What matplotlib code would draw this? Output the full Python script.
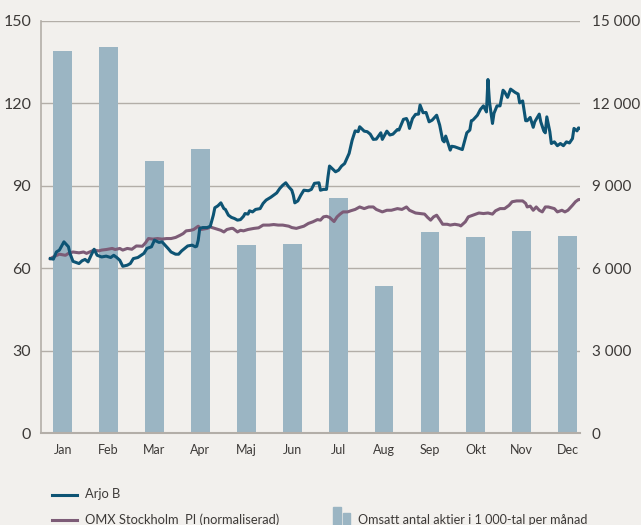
import matplotlib
matplotlib.use("Agg")
import matplotlib.pyplot as plt
from matplotlib.lines import Line2D
from matplotlib.patches import Rectangle
from matplotlib.ticker import FuncFormatter
import numpy as np

months = ["Jan", "Feb", "Mar", "Apr", "Maj", "Jun", "Jul", "Aug", "Sep", "Okt", "Nov", "Dec"]
volume = [13900, 14050, 9900, 10330, 6840, 6870, 8550, 5340, 7310, 7130, 7350, 7170]

arjo_days = [8, 10, 12, 14, 17, 20, 21, 23, 27, 29, 31, 33, 35, 37, 39, 42, 45, 48, 50, 52,
             54, 56, 59, 61, 63, 66, 70, 72, 75, 77, 80, 82, 84, 86, 88, 91, 93, 95, 97, 99,
             102, 104, 105, 106, 107, 109, 112, 114, 116, 117, 119, 121, 123, 124, 126, 128,
             130, 132, 134, 136, 137, 139, 140, 142, 144, 147, 149, 151, 154, 156, 158, 160,
             162, 164, 166, 168, 169, 170, 172, 174, 176, 179, 181, 183, 186, 187, 189, 191,
             192, 193, 197, 199, 201, 203, 206, 208, 210, 212, 213, 216, 218, 220, 222, 224,
             227, 228, 231, 233, 235, 238, 239, 242, 244, 245, 246, 248, 250, 252, 253, 255,
             257, 259, 261, 264, 266, 268, 269, 270, 273, 274, 276, 279, 281, 283, 284, 286,
             287, 288, 291, 293, 295, 297, 298, 299, 301, 302, 304, 306, 308, 309, 311, 313,
             316, 318, 319, 321, 323, 324, 326, 328, 329, 332, 333, 335, 336, 337, 339, 340,
             342, 344, 346, 348, 350, 352, 354, 355, 357, 358, 360]
arjo = [63.5, 63.3, 65.9, 66.6, 69.6, 67.8, 65.4, 62.5, 61.7, 62.7, 63.2, 62.3, 64.7, 66.9,
        64.7, 64.1, 64.4, 63.9, 64.7, 63.9, 62.9, 60.7, 61.1, 61.7, 63.5, 63.9, 65.4, 67.2,
        67.8, 70.2, 69.4, 69.6, 68.4, 67.2, 65.9, 65.1, 65.1, 66.3, 67.2, 68.1, 68.4, 67.8,
        68.0, 70.2, 74.5, 74.8, 74.8, 75.3, 79.3, 82.0, 82.7, 83.8, 81.7, 81.4, 79.3, 78.5,
        78.1, 77.5, 77.7, 78.9, 79.9, 79.7, 80.9, 80.5, 81.4, 81.7, 83.6, 84.8, 85.8, 86.6,
        87.4, 89.0, 90.2, 91.1, 89.6, 88.4, 86.6, 83.8, 84.5, 86.6, 88.4, 88.2, 88.7, 90.9,
        91.1, 88.4, 88.7, 88.7, 93.3, 97.2, 95.1, 95.7, 97.2, 98.1, 101.8, 106.6, 110.0,
        109.7, 111.5, 109.9, 109.7, 108.8, 106.9, 107.0, 109.3, 106.9, 109.9, 108.5, 108.8,
        110.5, 110.3, 114.2, 114.5, 113.3, 110.9, 114.5, 116.0, 116.1, 119.4, 116.6, 116.7,
        113.3, 113.9, 115.7, 112.1, 106.6, 106.0, 108.1, 103.0, 104.4, 104.2, 103.6, 103.2,
        107.2, 109.3, 110.3, 113.7, 113.9, 115.7, 117.8, 119.1, 116.9, 128.7, 120.6, 112.7,
        116.4, 119.1, 119.1, 124.8, 124.2, 122.2, 125.2, 124.0, 123.4, 120.2, 120.9, 113.7,
        113.7, 114.9, 111.3, 113.3, 116.1, 113.3, 110.0, 109.3, 115.1, 109.7, 105.4, 106.0,
        104.6, 105.4, 104.6, 106.0, 105.6, 107.2, 110.9, 110.0, 111.1, 110.6]

omx_days = [8, 11, 14, 18, 20, 23, 27, 30, 32, 34, 37, 40, 42, 45, 49, 51, 54, 56, 59, 62,
            65, 69, 71, 73, 76, 79, 82, 85, 88, 91, 94, 96, 98, 101, 103, 104, 106, 108, 112,
            114, 117, 121, 123, 125, 128, 129, 132, 134, 136, 139, 143, 146, 149, 153, 156,
            159, 162, 166, 168, 171, 174, 176, 179, 182, 185, 187, 189, 191, 193, 196, 198,
            200, 202, 205, 207, 210, 213, 216, 219, 222, 224, 228, 231, 234, 238, 241, 244,
            246, 250, 253, 256, 258, 260, 262, 264, 266, 268, 271, 273, 276, 279, 280, 283,
            285, 288, 292, 295, 298, 301, 303, 306, 309, 312, 314, 317, 321, 323, 324, 326,
            328, 330, 332, 334, 336, 338, 342, 344, 347, 349, 351, 354, 356, 358, 360]
omx = [63.5, 64.4, 65.1, 64.7, 65.4, 65.9, 65.6, 65.9, 65.4, 65.9, 66.6, 66.3, 66.6, 66.8,
       67.2, 66.8, 67.2, 66.6, 67.2, 66.9, 68.1, 68.0, 69.2, 70.8, 70.6, 70.8, 70.6, 70.8,
       70.8, 71.2, 72.0, 72.6, 73.6, 73.8, 74.1, 74.5, 75.3, 74.1, 74.5, 75.0, 74.5, 73.8,
       73.2, 74.1, 74.5, 74.5, 73.2, 73.8, 73.6, 74.1, 74.5, 74.7, 75.7, 75.7, 75.9, 75.7,
       75.7, 75.3, 74.8, 74.5, 75.0, 75.3, 76.3, 76.9, 77.7, 77.5, 78.7, 78.9, 78.5, 77.0,
       78.7, 79.7, 80.5, 80.5, 80.9, 81.4, 82.3, 81.7, 82.3, 82.3, 81.4, 80.5, 81.1, 81.1,
       81.7, 81.4, 82.3, 81.1, 80.1, 79.9, 79.7, 78.5, 77.5, 78.7, 79.3, 77.7, 76.0, 76.0,
       75.7, 76.0, 75.7, 75.4, 76.9, 78.7, 79.3, 80.1, 79.9, 80.1, 79.7, 80.9, 81.7, 81.7,
       82.9, 84.2, 84.5, 84.5, 83.6, 82.3, 82.6, 81.1, 82.3, 81.1, 80.5, 82.3, 82.3, 81.7,
       80.5, 81.1, 80.5, 81.1, 82.9, 84.2, 85.0, 85.0]

BG = "#f2f0ed"
BAR = "#9bb5c3"
BLUE = "#0e5474"
PURPLE = "#7d5c77"
GRID = "#b3aea8"
TXT = "#3d3a38"
FONT = ["Lato", "DejaVu Sans"]

plt.rcParams["font.family"] = FONT

fig = plt.figure(figsize=(6.41, 5.25), dpi=100, facecolor=BG)
ax = fig.add_axes([0.064, 0.1752, 0.841, 0.7848])
ax.set_facecolor(BG)
ax2 = ax.twinx()

x_bar = np.arange(len(months))
ax2.bar(x_bar, volume, width=0.41, color=BAR, zorder=1)
ax2.set_ylim(0, 15000)
ax2.set_yticks([0, 3000, 6000, 9000, 12000, 15000])
ax2.yaxis.set_major_formatter(FuncFormatter(lambda v, p: f"{int(v):,}".replace(",", " ")))

def day_to_pos(d):
    return (np.asarray(d) - 1) / (365 / 12) - 0.5

ax.set_zorder(ax2.get_zorder() + 1)
ax.patch.set_visible(False)
ax2.patch.set_visible(True)
ax2.patch.set_facecolor(BG)

ax2.grid(False)
for v in [3000, 6000, 9000, 12000, 15000]:
    ax2.axhline(v, color=GRID, lw=1.0, zorder=0.5)

ax.plot(day_to_pos(omx_days), omx, color=PURPLE, lw=2.2, zorder=3, solid_joinstyle="round")
ax.plot(day_to_pos(arjo_days), arjo, color=BLUE, lw=2.2, zorder=4, solid_joinstyle="round")

ax.set_ylim(0, 150)
ax.set_yticks([0, 30, 60, 90, 120, 150])
ax.set_xlim(-0.473, 11.272)
ax.set_xticks(x_bar)
ax.set_xticklabels(months)

for a in (ax, ax2):
    for s in ["top", "right", "left", "bottom"]:
        a.spines[s].set_visible(False)
    a.tick_params(length=0, colors=TXT)

ax.spines["left"].set_visible(True)
ax.spines["left"].set_color(GRID)
ax.spines["left"].set_linewidth(1.2)
ax.spines["bottom"].set_visible(True)
ax.spines["bottom"].set_color(GRID)
ax.spines["bottom"].set_linewidth(1.5)

ax.tick_params(axis="y", labelsize=11.5, pad=7)
ax2.tick_params(axis="y", labelsize=11, pad=8.5)
ax.tick_params(axis="x", labelsize=9, pad=8)
for lbl in ax.get_yticklabels() + ax2.get_yticklabels() + ax.get_xticklabels():
    lbl.set_color(TXT)

# legend
W, H = 641, 525
def fx(px):
    return px / W
def fy(py):
    return 1 - py / H

fig.add_artist(Line2D([fx(52), fx(77)], [fy(494.5), fy(494.5)], color=BLUE, lw=2.2,
                      transform=fig.transFigure))
fig.text(fx(85), fy(494.5), "Arjo B", fontsize=9.3, color=TXT, va="center", ha="left")
fig.add_artist(Line2D([fx(52), fx(77)], [fy(520), fy(520)], color=PURPLE, lw=2.2,
                      transform=fig.transFigure))
fig.text(fx(85), fy(520), "OMX Stockholm  PI (normaliserad)", fontsize=9.3, color=TXT,
         va="center", ha="left")
fig.add_artist(Rectangle((fx(333), fy(526)), fx(8), 19 / H, color=BAR,
                         transform=fig.transFigure))
fig.add_artist(Rectangle((fx(343), fy(526)), fx(7), 13 / H, color=BAR,
                         transform=fig.transFigure))
fig.text(fx(358), fy(520), "Omsatt antal aktier i 1 000-tal per månad", fontsize=9.1,
         color=TXT, va="center", ha="left")

fig.savefig("out.png", dpi=100, facecolor=BG)
